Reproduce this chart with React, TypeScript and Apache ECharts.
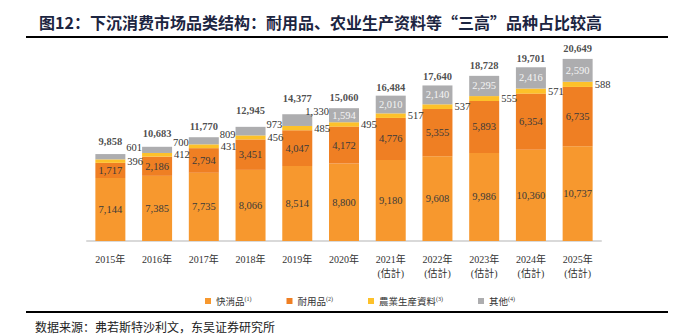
import React, { useEffect, useRef } from "react";
import * as echarts from "echarts";

const categories = ["2015年", "2016年", "2017年", "2018年", "2019年", "2020年", "2021年\n(估計)", "2022年\n(估計)", "2023年\n(估計)", "2024年\n(估計)", "2025年\n(估計)"];
const fmcg = [7144, 7385, 7735, 8066, 8514, 8800, 9180, 9608, 9986, 10360, 10737];
const durable = [1717, 2186, 2794, 3451, 4047, 4172, 4776, 5355, 5893, 6354, 6735];
const agri = [396, 412, 431, 456, 485, 495, 517, 537, 555, 571, 588];
const other = [601, 700, 809, 973, 1330, 1594, 2010, 2140, 2295, 2416, 2590];
const totals = [9858, 10683, 11770, 12945, 14377, 15060, 16484, 17640, 18728, 19701, 20649];
const seriesNames = ["快消品", "耐用品", "農業生産資料", "其他"];
const notes = ["(1)", "(2)", "(3)", "(4)"];
// outside-label offsets for the thin "其他" segments of the early years
const otherOutside = [
  [31, -7],
  [31, -4],
  [31, -3],
  [31, -2],
  [23, -3],
];
// gap between each total label and its bar top
const totalGap = [7, 8, 5, 11, 10, 5, 2, 3, 5, 3, 5];

const NUM_FONT = "'Liberation Serif', 'Noto Sans CJK TC', serif";
const fmt = (v: number) => v.toLocaleString("en-US");

export default function App() {
  const ref = useRef<HTMLDivElement>(null);
  useEffect(() => {
    document.body.style.margin = "0";
    if (!ref.current) return;
    const chart = echarts.init(ref.current, undefined, { renderer: "svg" });
    const colors = ["#F7982E", "#EF7F23", "#FDC12A", "#ADADAF"];
    const innerLabel = {
      show: true,
      position: "inside" as const,
      color: "#3a3a3a",
      fontSize: 10.5,
      fontFamily: NUM_FONT,
      formatter: (p: any) => fmt(p.value),
    };
    chart.setOption({
      animation: false,
      color: colors,
      title: {
        text: "图12：下沉消费市场品类结构：耐用品、农业生产资料等“三高”品种占比较高",
        left: 34,
        top: 9,
        textStyle: {
          fontSize: 16,
          fontWeight: "bold",
          color: "#1c2541",
          fontFamily: "'Noto Sans CJK SC', sans-serif",
        },
      },
      graphic: [
        { type: "line", shape: { x1: 26, y1: 37, x2: 668, y2: 37 }, style: { stroke: "#000", lineWidth: 2 } },
        { type: "line", shape: { x1: 26, y1: 312, x2: 668, y2: 312 }, style: { stroke: "#000", lineWidth: 2 } },
        {
          type: "text",
          x: 35,
          y: 326,
          style: {
            text: "数据来源：弗若斯特沙利文，东吴证券研究所",
            fontSize: 12,
            fill: "#222",
            fontFamily: "'Noto Sans CJK SC', sans-serif",
            verticalAlign: "middle",
          },
        },
      ],
      legend: {
        data: seriesNames,
        left: 200,
        top: 291,
        icon: "rect",
        itemWidth: 6,
        itemHeight: 6,
        itemGap: 35,
        formatter: (name: string) => `{a|${name}}{s|${notes[seriesNames.indexOf(name)]}}`,
        textStyle: {
          rich: {
            a: { fontSize: 9.5, color: "#333", fontFamily: "'Noto Sans CJK TC', sans-serif" },
            s: { fontSize: 6, color: "#333", fontFamily: NUM_FONT, verticalAlign: "top", padding: [0, 0, 4, 0] },
          },
        },
      },
      grid: { left: 87, right: 87, top: 47, bottom: 93 },
      xAxis: {
        type: "category",
        data: categories,
        axisLine: { lineStyle: { color: "#D9D9D9", width: 2 } },
        axisTick: { show: false },
        axisLabel: {
          color: "#333",
          fontSize: 10,
          lineHeight: 14,
          margin: 11,
          fontFamily: NUM_FONT,
          interval: 0,
        },
      },
      yAxis: { type: "value", min: 0, max: 22000, show: false, splitLine: { show: false } },
      series: [
        {
          name: seriesNames[0],
          type: "bar",
          stack: "t",
          barWidth: 30,
          data: fmcg,
          label: innerLabel,
        },
        {
          name: seriesNames[1],
          type: "bar",
          stack: "t",
          barWidth: 30,
          data: durable,
          label: innerLabel,
        },
        {
          name: seriesNames[2],
          type: "bar",
          stack: "t",
          barWidth: 30,
          data: agri,
          label: {
            show: true,
            position: "right",
            distance: 2,
            color: "#333",
            fontSize: 10.5,
            fontFamily: NUM_FONT,
            formatter: (p: any) => fmt(p.value),
          },
        },
        {
          name: seriesNames[3],
          type: "bar",
          stack: "t",
          barWidth: 30,
          data: other.map((v, i) =>
            i < otherOutside.length
              ? {
                  value: v,
                  label: {
                    position: otherOutside[i],
                    align: "left",
                    verticalAlign: "middle",
                    color: "#333",
                  },
                }
              : v
          ),
          label: {
            show: true,
            position: "inside",
            color: "#f4f4f4",
            fontSize: 10.5,
            fontFamily: NUM_FONT,
            formatter: (p: any) => fmt(p.value),
          },
        },
        {
          name: "合计",
          type: "scatter",
          data: totals.map((v, i) => ({ value: v, label: { distance: totalGap[i] } })),
          symbolSize: 1,
          itemStyle: { color: "rgba(0,0,0,0)" },
          z: 5,
          label: {
            show: true,
            position: "top",
            color: "#222",
            fontSize: 10.5,
            fontWeight: "bold",
            fontFamily: NUM_FONT,
            formatter: (p: any) => fmt(p.value),
          },
        },
      ],
    });
    return () => chart.dispose();
  }, []);
  return <div ref={ref} style={{ width: 688, height: 334 }} />;
}
